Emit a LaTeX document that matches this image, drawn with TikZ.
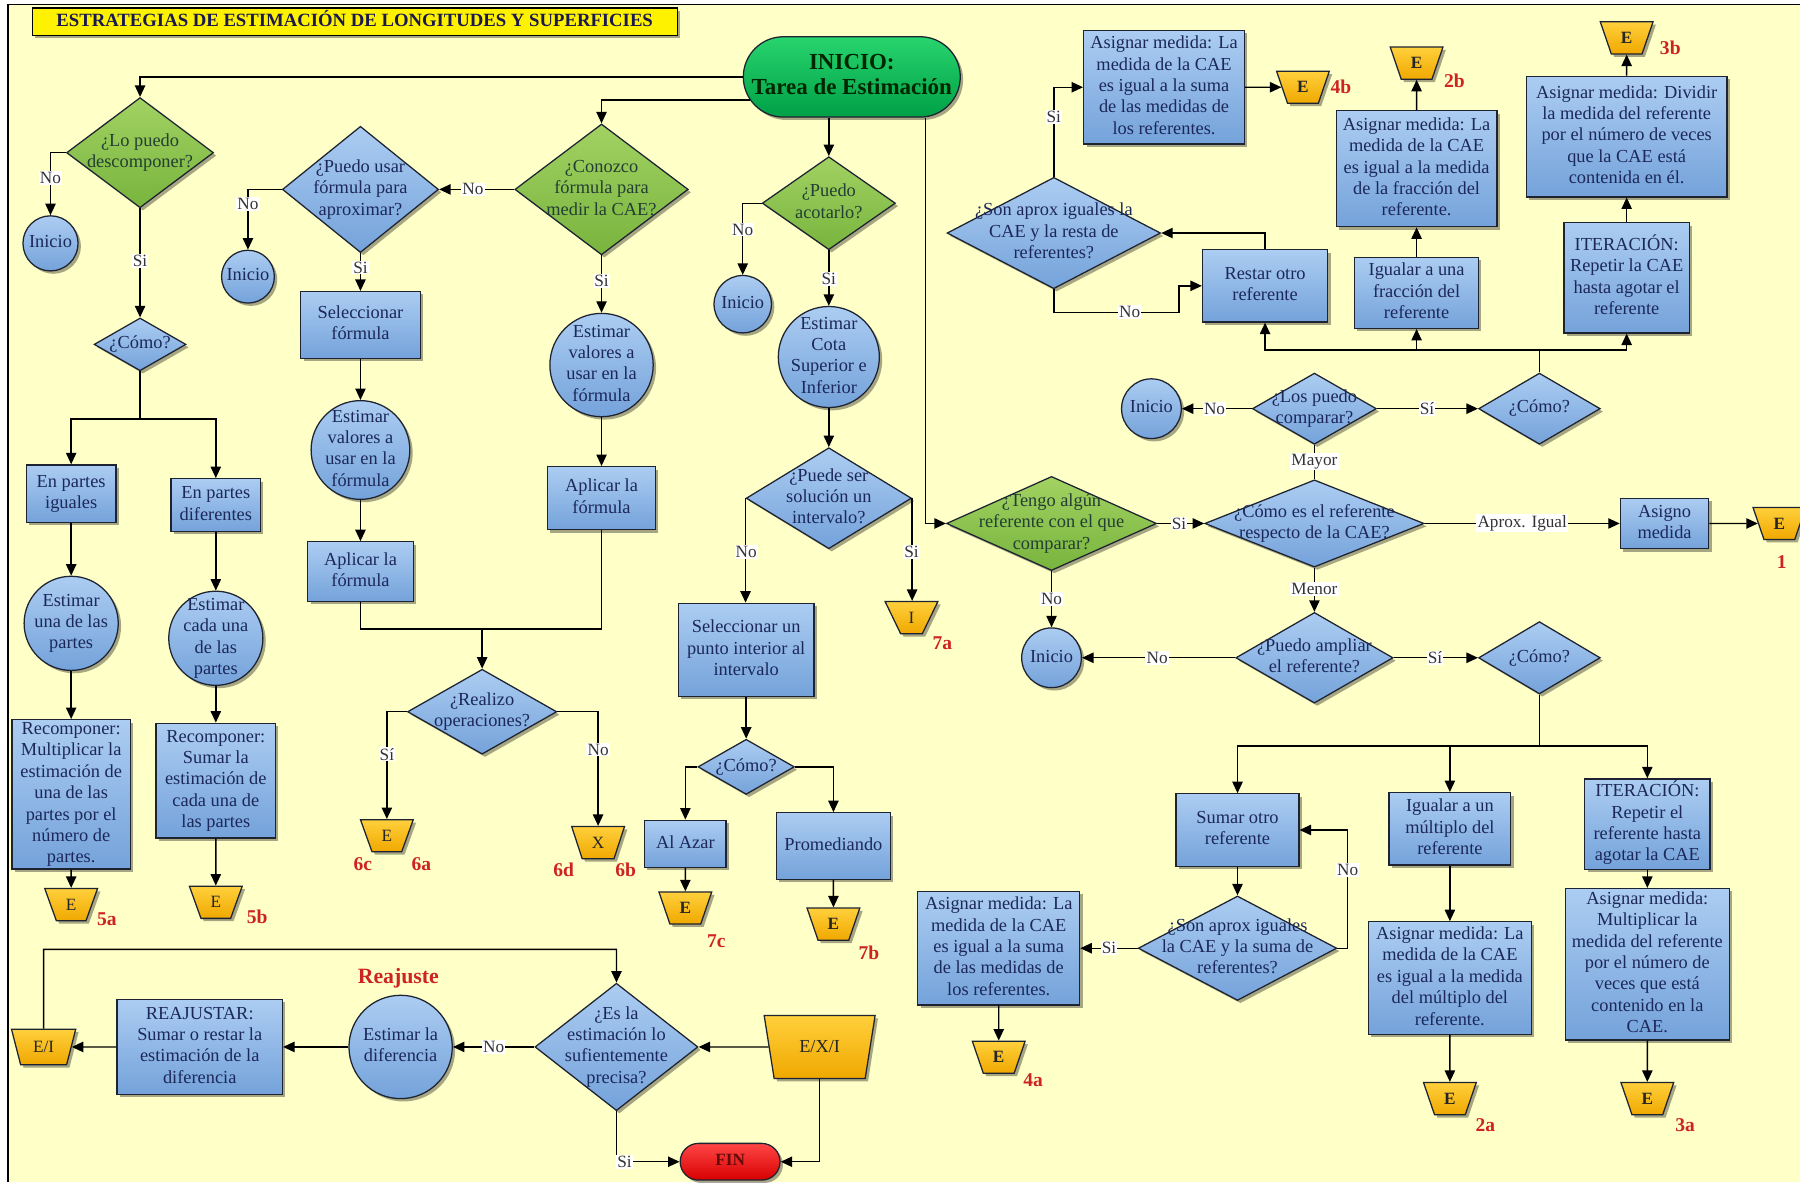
\documentclass[tikz,border=0pt]{standalone}
\usepackage{fontspec}
\setmainfont{Liberation Serif}
\usetikzlibrary{shapes.geometric,shapes.misc,arrows.meta,shadows,calc}
\definecolor{bgc}{RGB}{255,255,200}
\definecolor{bt}{RGB}{172,205,242}
\definecolor{bb}{RGB}{116,162,218}
\definecolor{gt}{RGB}{162,210,98}
\definecolor{gb}{RGB}{120,180,62}
\definecolor{ot}{RGB}{255,208,60}
\definecolor{ob}{RGB}{240,168,0}
\definecolor{txtc}{RGB}{28,40,90}
\definecolor{gtxt}{RGB}{35,62,50}
\definecolor{redc}{RGB}{205,35,35}
\definecolor{bordc}{RGB}{30,35,50}
\definecolor{ini1}{RGB}{40,212,110}
\definecolor{ini2}{RGB}{0,160,70}
\definecolor{fin1}{RGB}{255,70,70}
\definecolor{fin2}{RGB}{215,0,0}
\definecolor{ttl}{RGB}{25,25,80}
\newcommand{\zt}[1]{\makebox[0pt]{\begin{tabular}{@{}c@{}}#1\end{tabular}}}
\begin{document}
\begin{tikzpicture}[x=1pt,y=-1pt,
 base/.style={draw=bordc, line width=1.1pt, inner sep=0pt, font=\fontsize{16}{18.6}\selectfont, text=txtc,
   drop shadow={shadow xshift=2.5pt,shadow yshift=-2.5pt,fill=black,opacity=.35}},
 bx/.style={base, rectangle, top color=bt, bottom color=bb},
 ci/.style={base, circle, top color=bt, bottom color=bb},
 dg/.style={base, diamond, top color=gt, bottom color=gb, text=gtxt},
 db/.style={base, diamond, top color=bt, bottom color=bb},
 tz/.style={base, trapezium, trapezium left angle=110, trapezium right angle=110, trapezium stretches=true,
   minimum width=46pt, minimum height=28pt, top color=ot, bottom color=ob,
   font=\fontsize{15}{17}\selectfont\bfseries, text=black!85},
 tzr/.style={font=\fontsize{15}{17}\selectfont},
 lbl/.style={fill=white, inner sep=1pt, font=\fontsize{15}{17}\selectfont, text=black!80},
 rl/.style={inner sep=0pt, font=\fontsize{17}{19}\selectfont\bfseries, text=redc},
 arr/.style={line width=1.2pt, -{Triangle[length=10pt,width=9pt]}},
 ln/.style={line width=1.2pt}]
\useasboundingbox (0,0) rectangle (1568,1030);
\fill[white] (0,0) rectangle (1568,1030);
\fill[bgc] (7,4) rectangle (1568,1030);
\draw[line width=1.2pt] (7,1030) -- (7,4) -- (1568,4);

% title and start
\node[draw=black, line width=1pt, fill=yellow, minimum width=562pt, minimum height=24pt, inner sep=0pt,
  drop shadow={shadow xshift=2.5pt,shadow yshift=-2.5pt,fill=black,opacity=.35},
  font=\fontsize{16.3}{18}\selectfont\bfseries, text=ttl] (title) at (309,19)
  {\zt{ESTRATEGIAS DE ESTIMACIÓN DE LONGITUDES Y SUPERFICIES}};
\node[base, rounded rectangle, minimum width=189pt, minimum height=70pt, top color=ini1, bottom color=ini2,
  font=\fontsize{20}{22}\selectfont\bfseries, text=black!85!green] (inicio) at (742,67)
  {\zt{INICIO:\\Tarea de Estimación}};

% left column
\node[dg, minimum width=128pt, minimum height=96pt] (d1) at (122,133) {\zt{¿Lo puedo\\descomponer?}};
\node[ci, minimum size=48pt] (i1) at (44,212) {\zt{Inicio}};
\node[db, minimum width=80pt, minimum height=46pt] (c1) at (122,300) {\zt{¿Cómo?}};
\coordinate (j1) at (122,365);
\node[bx, minimum width=78pt, minimum height=50pt] (big) at (62,430) {\zt{En partes\\iguales}};
\node[bx, minimum width=78pt, minimum height=46pt] (bdif) at (188,440) {\zt{En partes\\diferentes}};
\node[ci, minimum size=82pt] (cuna) at (62,543) {\zt{Estimar\\una de las\\partes}};
\node[ci, minimum size=82pt] (ccada) at (188,556) {\zt{Estimar\\cada una\\de las\\partes}};
\node[bx, minimum width=103pt, minimum height=128pt] (r1) at (62,692) {\zt{Recomponer:\\Multiplicar la\\estimación de\\una de las\\partes por el\\número de\\partes.}};
\node[bx, minimum width=104pt, minimum height=100pt] (r2) at (188,680) {\zt{Recomponer:\\Sumar la\\estimación de\\cada una de\\las partes}};
\node[tz, tzr] (e5a) at (62,788) {E};
\node[rl] (l5a) at (93,801) {5a};
\node[tz, tzr] (e5b) at (188,786) {E};
\node[rl] (l5b) at (224,799) {5b};

% column 2
\node[db, minimum width=136pt, minimum height=110pt] (d2) at (314,165) {\zt{¿Puedo usar\\fórmula para\\aproximar?}};
\node[ci, minimum size=46pt] (i2) at (216,241) {\zt{Inicio}};
\node[bx, minimum width=104pt, minimum height=58pt] (s1) at (314,283) {\zt{Seleccionar\\fórmula}};
\node[ci, minimum size=86pt] (cval1) at (314,392) {\zt{Estimar\\valores a\\usar en la\\fórmula}};
\node[bx, minimum width=92pt, minimum height=52pt] (ap1) at (314,498) {\zt{Aplicar la\\fórmula}};
\coordinate (j2) at (420,548);
\node[db, minimum width=130pt, minimum height=74pt] (dreal) at (420,620) {\zt{¿Realizo\\operaciones?}};
\node[tz, tzr] (e6) at (337,728) {E};
\node[rl] (l6c) at (316,753) {6c};
\node[rl] (l6a) at (367,753) {6a};
\node[tz, tzr] (x6) at (521,734) {X};
\node[rl] (l6d) at (491,758) {6d};
\node[rl] (l6b) at (545,758) {6b};

% column 3
\node[dg, minimum width=151pt, minimum height=114pt] (d3) at (524,165) {\zt{¿Conozco\\fórmula para\\medir la CAE?}};
\node[ci, minimum size=90pt] (cval2) at (524,318) {\zt{Estimar\\valores a\\usar en la\\fórmula}};
\node[bx, minimum width=94pt, minimum height=55pt] (ap2) at (524,434) {\zt{Aplicar la\\fórmula}};

% column 4
\node[dg, minimum width=116pt, minimum height=81pt] (d4) at (722,177) {\zt{¿Puedo\\acotarlo?}};
\node[ci, minimum size=50pt] (i4) at (647,265) {\zt{Inicio}};
\node[ci, minimum size=88pt] (ccota) at (722,311) {\zt{Estimar\\Cota\\Superior e\\Inferior}};
\node[db, minimum width=144pt, minimum height=88pt] (dint) at (722,434) {\zt{¿Puede ser\\solución un\\intervalo?}};
\node[bx, minimum width=118pt, minimum height=81pt] (spt) at (650,566) {\zt{Seleccionar un\\punto interior al\\intervalo}};
\node[db, minimum width=84pt, minimum height=48pt] (c2) at (650,668) {\zt{¿Cómo?}};
\node[bx, minimum width=71pt, minimum height=41pt] (azar) at (597,735) {\zt{Al Azar}};
\node[bx, minimum width=99pt, minimum height=58pt] (prom) at (726,737) {\zt{Promediando}};
\node[tz] (e7c) at (597,791) {E};
\node[rl] (l7c) at (624,820) {7c};
\node[tz] (e7b) at (726,805) {E};
\node[rl] (l7b) at (757,830) {7b};
\node[tz, tzr] (i7a) at (794,538) {I};
\node[rl] (l7a) at (821,560) {7a};

% right middle
\coordinate (k4) at (806,456);
\node[dg, minimum width=183pt, minimum height=82pt] (dten) at (916,456) {\zt{¿Tengo algún\\referente con el que\\comparar?}};
\node[ci, minimum size=52pt] (i5) at (916,573) {\zt{Inicio}};
\node[db, minimum width=191pt, minimum height=76pt] (dcomo) at (1145,456) {\zt{¿Cómo es el referente\\respecto de la CAE?}};
\node[db, minimum width=108pt, minimum height=62pt] (dlos) at (1145,356) {\zt{¿Los puedo\\comparar?}};
\node[ci, minimum size=52pt] (i6) at (1003,356) {\zt{Inicio}};
\node[db, minimum width=106pt, minimum height=62pt] (c3) at (1341,356) {\zt{¿Cómo?}};
\node[bx, minimum width=77pt, minimum height=44pt] (asig) at (1450,456) {\zt{Asigno\\medida}};
\node[tz] (e1) at (1550,456) {E};
\node[rl] (l1) at (1552,490) {1};
\node[db, minimum width=137pt, minimum height=79pt] (damp) at (1145,573) {\zt{¿Puedo ampliar\\el referente?}};
\node[db, minimum width=106pt, minimum height=63pt] (c4) at (1341,573) {\zt{¿Cómo?}};
\coordinate (j3) at (1341,650);

% lower right
\node[bx, minimum width=107pt, minimum height=63pt] (sumar) at (1078,723) {\zt{Sumar otro\\referente}};
\node[db, minimum width=173pt, minimum height=91pt] (dsuma) at (1078,826) {\zt{¿Son aprox iguales\\la CAE y la suma de\\referentes?}};
\coordinate (k5) at (1174,826);
\node[bx, minimum width=141pt, minimum height=99pt] (a4a) at (870,826) {\zt{Asignar medida: La\\medida de la CAE\\es igual a la suma\\de las medidas de\\los referentes.}};
\node[tz] (e4a) at (870,921) {E};
\node[rl] (l4a) at (900,941) {4a};
\node[bx, minimum width=106pt, minimum height=63pt] (igmul) at (1263,722) {\zt{Igualar a un\\múltiplo del\\referente}};
\node[bx, minimum width=142pt, minimum height=98pt] (a2a) at (1263,852) {\zt{Asignar medida: La\\medida de la CAE\\es igual a la medida\\del múltiplo del\\referente.}};
\node[tz] (e2a) at (1263,957) {E};
\node[rl] (l2a) at (1294,980) {2a};
\node[bx, minimum width=109pt, minimum height=79pt] (it1) at (1435,718) {\zt{ITERACIÓN:\\Repetir el\\referente hasta\\agotar la CAE}};
\node[bx, minimum width=143pt, minimum height=132pt] (a3a) at (1435,840) {\zt{Asignar medida:\\Multiplicar la\\medida del referente\\por el número de\\veces que está\\contenido en la\\CAE.}};
\node[tz] (e3a) at (1435,957) {E};
\node[rl] (l3a) at (1468,980) {3a};

% upper right
\node[bx, minimum width=140pt, minimum height=99pt] (a4b) at (1014,76) {\zt{Asignar medida: La\\medida de la CAE\\es igual a la suma\\de las medidas de\\los referentes.}};
\node[tz] (e4b) at (1135,76) {E};
\node[rl] (l4b) at (1168,76) {4b};
\node[db, minimum width=186pt, minimum height=97pt] (dresta) at (918,203) {\zt{¿Son aprox iguales la\\CAE y la resta de\\referentes?}};
\coordinate (k6) at (1027,272);
\node[bx, minimum width=109pt, minimum height=63pt] (restar) at (1102,249) {\zt{Restar otro\\referente}};
\node[bx, minimum width=108pt, minimum height=62pt] (igfrac) at (1234,255) {\zt{Igualar a una\\fracción del\\referente}};
\node[bx, minimum width=140pt, minimum height=101pt] (a2b) at (1234,147) {\zt{Asignar medida: La\\medida de la CAE\\es igual a la medida\\de la fracción del\\referente.}};
\node[tz] (e2b) at (1234,55) {E};
\node[rl] (l2b) at (1267,70) {2b};
\coordinate (j4) at (1341,305);
\node[bx, minimum width=109pt, minimum height=96pt] (it2) at (1417,242) {\zt{ITERACIÓN:\\Repetir la CAE\\hasta agotar el\\referente}};
\node[bx, minimum width=175pt, minimum height=105pt] (a3b) at (1417,119) {\zt{Asignar medida: Dividir\\la medida del referente\\por el número de veces\\que la CAE está\\contenida en él.}};
\node[tz] (e3b) at (1417,33) {E};
\node[rl] (l3b) at (1455,42) {3b};

% bottom left: reajuste
\coordinate (k7) at (38,827);
\node[tz, tzr, minimum width=56pt, minimum height=31pt] (eei) at (38,912) {E/I};
\node[bx, minimum width=144pt, minimum height=83pt] (reaj) at (174,912) {\zt{REAJUSTAR:\\Sumar o restar la\\estimación de la\\diferencia}};
\node[ci, minimum size=90pt] (cdif) at (349,912) {\zt{Estimar la\\diferencia}};
\node[rl, font=\fontsize{19}{21}\selectfont\bfseries] (lreaj) at (347,852) {Reajuste};
\node[db, minimum width=142pt, minimum height=111pt] (des) at (537,912) {\zt{¿Es la\\estimación lo\\sufientemente\\precisa?}};
\node[tz, minimum width=97pt, minimum height=55pt, font=\fontsize{16}{18}\selectfont] (exi) at (714,912) {E/X/I};
\node[base, rounded rectangle, minimum width=87pt, minimum height=32pt, top color=fin1, bottom color=fin2,
  font=\fontsize{15}{17}\selectfont\bfseries, text={rgb,255:red,100;green,10;blue,10}] (fin) at (636,1012) {\zt{FIN}};

% connectors
\draw[arr] (inicio.west) -| (d1.north);
\draw[arr] ([shift={(6pt,-20pt)}]inicio.west) -| (d3.north);
\draw[arr] (inicio.south -| d4.north) -- (d4.north);
\draw[arr] (inicio.south -| k4) -- (k4) -- (dten.west);

\draw[arr] (d1.west) -| (i1.north);
\draw[arr] (d1.south) -- (c1.north);
\draw[ln] (c1.south) -- (j1);
\draw[arr] (j1) -| (big.north);
\draw[arr] (j1) -| (bdif.north);
\draw[arr] (big.south) -- (cuna.north);
\draw[arr] (bdif.south) -- (ccada.north);
\draw[arr] (cuna.south) -- (r1.north);
\draw[arr] (ccada.south) -- (r2.north);
\draw[arr] (r1.south) -- (e5a.north);
\draw[arr] (r2.south) -- (e5b.north);

\draw[arr] (d3.west) -- (d2.east);
\draw[arr] (d2.west) -| (i2.north);
\draw[arr] (d2.south) -- (s1.north);
\draw[arr] (s1.south) -- (cval1.north);
\draw[arr] (cval1.south) -- (ap1.north);
\draw[ln] (ap1.south) |- (j2);
\draw[ln] (ap2.south) |- (j2);
\draw[arr] (j2) -- (dreal.north);
\draw[arr] (dreal.west) -| (e6.north);
\draw[arr] (dreal.east) -| (x6.north);

\draw[arr] (d3.south) -- (cval2.north);
\draw[arr] (cval2.south) -- (ap2.north);

\draw[arr] (d4.west) -| (i4.north);
\draw[arr] (d4.south) -- (ccota.north);
\draw[arr] (ccota.south) -- (dint.north);
\draw[arr] (dint.west) -- (dint.west |- spt.north);
\draw[arr] (dint.east) -- (dint.east |- i7a.north);
\draw[arr] (spt.south) -- (c2.north);
\draw[arr] (c2.west) -| (azar.north);
\draw[arr] (c2.east) -| (prom.north);
\draw[arr] (azar.south) -- (e7c.north);
\draw[arr] (prom.south) -- (e7b.north);

\draw[arr] (dten.east) -- (dcomo.west);
\draw[arr] (dten.south) -- (i5.north);
\draw[ln] (dcomo.north) -- (dlos.south);
\draw[arr] (dcomo.east) -- (asig.west);
\draw[arr] (asig.east) -- (e1.west);
\draw[arr] (dcomo.south) -- (damp.north);
\draw[arr] (dlos.west) -- (i6.east);
\draw[arr] (dlos.east) -- (c3.west);
\draw[arr] (damp.west) -- (i5.east);
\draw[arr] (damp.east) -- (c4.west);
\draw[ln] (c4.south) -- (j3);
\draw[arr] (j3) -| (sumar.north);
\draw[arr] (j3) -| (igmul.north);
\draw[arr] (j3) -| (it1.north);
\draw[arr] (sumar.south) -- (dsuma.north);
\draw[arr] (dsuma.east) -- (k5) |- (sumar.east);
\draw[arr] (dsuma.west) -- (a4a.east);
\draw[arr] (a4a.south) -- (e4a.north);
\draw[arr] (igmul.south) -- (a2a.north);
\draw[arr] (a2a.south) -- (e2a.north);
\draw[arr] (it1.south) -- (a3a.north);
\draw[arr] (a3a.south) -- (e3a.north);

\draw[ln] (c3.north) -- (j4);
\draw[arr] (j4) -| (restar.south);
\draw[arr] (j4) -| (igfrac.south);
\draw[arr] (j4) -| (it2.south);
\draw[arr] (restar.north) |- (dresta.east);
\draw[arr] (dresta.south) |- (k6) |- (restar.west);
\draw[arr] (dresta.north) |- (a4b.west);
\draw[arr] (a4b.east) -- (e4b.west);
\draw[arr] (igfrac.north) -- (a2b.south);
\draw[arr] (a2b.north) -- (e2b.south);
\draw[arr] (it2.north) -- (a3b.south);
\draw[arr] (a3b.north) -- (e3b.south);

\draw[arr] (eei.north) -- (k7) -| (des.north);
\draw[arr] (reaj.west) -- (eei.east);
\draw[arr] (cdif.west) -- (reaj.east);
\draw[arr] (des.west) -- (cdif.east);
\draw[arr] (exi.west) -- (des.east);
\draw[arr] (exi.south) |- (fin.east);
\draw[arr] (des.south) |- (fin.west);

% connector labels
\node[lbl] (n1) at (44,155) {No};
\node[lbl] (n2) at (122,227) {Si};
\node[lbl] (n3) at (412,165) {No};
\node[lbl] (n4) at (216,178) {No};
\node[lbl] (n5) at (314,233) {Si};
\node[lbl] (n6) at (524,245) {Si};
\node[lbl] (n7) at (337,657) {Sí};
\node[lbl] (n8) at (521,653) {No};
\node[lbl] (n9) at (647,200) {No};
\node[lbl] (n10) at (722,243) {Si};
\node[lbl] (n11) at (650,481) {No};
\node[lbl] (n12) at (794,481) {Si};
\node[lbl] (n13) at (1027,456) {Si};
\node[lbl] (n14) at (916,522) {No};
\node[lbl] (n15) at (1145,402) {Mayor};
\node[lbl] (n16) at (1326,456) {Aprox. Igual};
\node[lbl] (n17) at (1145,513) {Menor};
\node[lbl] (n18) at (1058,356) {No};
\node[lbl] (n19) at (1243,356) {Sí};
\node[lbl] (n20) at (1008,573) {No};
\node[lbl] (n21) at (1250,573) {Sí};
\node[lbl] (n22) at (1174,758) {No};
\node[lbl] (n23) at (966,826) {Si};
\node[lbl] (n24) at (984,272) {No};
\node[lbl] (n25) at (918,102) {Si};
\node[lbl] (n26) at (430,912) {No};
\node[lbl] (n27) at (544,1012) {Si};
\end{tikzpicture}
\end{document}
